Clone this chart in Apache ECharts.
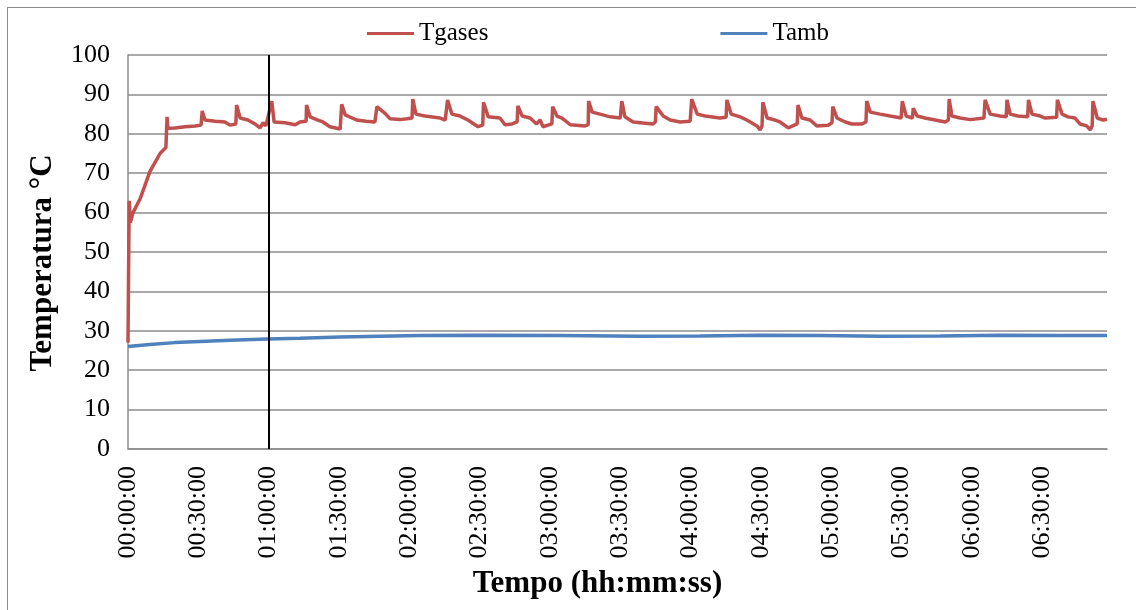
<!DOCTYPE html>
<html>
<head>
<meta charset="utf-8">
<script src="https://cdn.jsdelivr.net/npm/echarts@6/dist/echarts.min.js"></script>
<style>
  html, body { margin: 0; padding: 0; background: #fff; }
  #chart { position: absolute; left: 0; top: 0; width: 1136px; height: 610px; }
  #frame { position: absolute; left: 7px; top: 7px; width: 1160px; height: 640px; border: 1px solid #8c8c8c; pointer-events: none; }
</style>
</head>
<body>
<div id="chart"></div>
<div id="frame"></div>
<script>
// time in seconds from start
const tgTime = [0, 30, 60, 130, 310, 560, 820, 970, 1000, 1020, 1200, 1460, 1720, 1870, 1900, 1970, 2230, 2480, 2610, 2760, 2780, 2870, 3070, 3250, 3380, 3460, 3530, 3580, 3680, 3740, 4020, 4280, 4400, 4560, 4570, 4660, 4860, 4990, 5170, 5430, 5470, 5560, 5850, 6090, 6320, 6370, 6580, 6710, 6960, 7140, 7270, 7290, 7370, 7600, 7990, 8120, 8170, 8180, 8290, 8500, 8700, 8960, 9080, 9100, 9220, 9520, 9650, 9830, 9960, 9980, 10090, 10290, 10460, 10550, 10620, 10850, 10870, 10980, 11110, 11320, 11700, 11780, 11790, 11880, 12080, 12340, 12600, 12640, 12720, 12930, 13240, 13440, 13500, 13520, 13700, 13880, 14130, 14390, 14430, 14570, 14770, 15150, 15310, 15330, 15440, 15670, 15840, 16100, 16180, 16230, 16250, 16360, 16560, 16690, 16900, 17130, 17150, 17250, 17460, 17630, 17920, 18020, 18040, 18150, 18360, 18530, 18790, 18890, 18910, 19000, 19250, 19510, 19790, 19820, 19920, 20080, 20100, 20200, 20400, 20660, 20920, 21000, 21020, 21090, 21300, 21560, 21910, 21940, 22070, 22320, 22480, 22500, 22580, 22780, 23030, 23050, 23140, 23350, 23480, 23770, 23790, 23910, 24060, 24240, 24370, 24540, 24630, 24680, 24700, 24810, 24960, 25060];
const tgVal = [27, 63, 57.5, 60, 63.5, 70.4, 75, 76.5, 84.3, 81.4, 81.5, 81.8, 82, 82.2, 85.8, 83.5, 83.2, 83, 82.2, 82.5, 87.3, 84, 83.5, 82.5, 81.5, 82.8, 82, 81.5, 88.3, 83, 82.8, 82.3, 83, 83.2, 87.3, 84.3, 83.5, 83, 81.8, 81.2, 87.5, 84.8, 83.5, 83.2, 83, 86.9, 85.2, 83.8, 83.6, 83.8, 84, 88.8, 85, 84.5, 84, 83.5, 83.8, 88.6, 85, 84.5, 83.5, 81.8, 82.2, 88, 84.3, 84, 82.3, 82.5, 83, 87.1, 84.5, 84, 82.5, 83.5, 81.8, 82.5, 86.9, 84.5, 84, 82.3, 82, 82.3, 88.3, 85.5, 85, 84.3, 84, 88.3, 84.3, 83, 82.7, 82.5, 83, 86.9, 84.5, 83.5, 83, 83.2, 88.8, 85, 84.5, 84, 84.2, 88.6, 85, 84.3, 83.5, 82, 81, 82, 88, 84, 83.5, 83, 81.5, 82.5, 87.3, 84, 83.5, 82, 82.2, 82.8, 86.9, 84, 83, 82.5, 82.5, 83, 88.3, 85.5, 85, 84.5, 84, 88.3, 84.5, 84, 86.5, 84.5, 84, 83.5, 83, 83.5, 88.8, 84.5, 84, 83.6, 84, 88.6, 85, 84.5, 84.3, 88.6, 85, 84.5, 84.3, 88.6, 85, 84.5, 84, 84.2, 88.6, 85, 84.3, 84, 82.5, 82, 81, 82, 88.3, 84, 83.5, 83.7];

const taTime = [0, 560, 1200, 1840, 2610, 3560, 4400, 5430, 6450, 7480, 9010, 11060, 13110, 14640, 16180, 17720, 19250, 20790, 22320, 23860, 25060];
const taVal = [26.0, 26.5, 27.0, 27.3, 27.6, 27.9, 28.1, 28.4, 28.6, 28.8, 28.9, 28.8, 28.6, 28.7, 28.9, 28.8, 28.6, 28.7, 28.9, 28.8, 28.8];

const yTicks = [0, 10, 20, 30, 40, 50, 60, 70, 80, 90, 100];
const markTime = 3600;

const pad = n => (n < 10 ? '0' : '') + n;
const fmt = v => {
  if (v % 1800) return '';
  const h = Math.floor(v / 3600), m = Math.floor(v % 3600 / 60), s = v % 60;
  return pad(h) + ':' + pad(m) + ':' + pad(s);
};

const serif = '"Liberation Serif", "DejaVu Serif", serif';
const chart = echarts.init(document.getElementById('chart'));
chart.setOption({
  animation: false,
  textStyle: { fontFamily: serif },
  legend: {
    left: 362, top: 16,
    icon: 'rect', itemWidth: 47, itemHeight: 3, itemGap: 232,
    textStyle: { fontFamily: serif, fontSize: 25, color: '#000' },
    data: ['Tgases', 'Tamb']
  },
  grid: { left: 128, right: 29, top: 55, bottom: 161 },
  xAxis: {
    type: 'value', min: 0, max: taTime[taTime.length - 1], interval: 1800,
    name: 'Tempo (hh:mm:ss)', nameLocation: 'middle', nameGap: 119,
    nameTextStyle: { fontFamily: serif, fontSize: 31, fontWeight: 'bold', color: '#000', padding: [0, 40, 0, 0] },
    axisLine: { lineStyle: { color: '#8c8c8c', width: 1.5 } },
    axisTick: { show: false },
    splitLine: { show: false },
    axisLabel: { rotate: 90, margin: 17, fontSize: 26, color: '#000', fontFamily: serif, showMaxLabel: false, formatter: fmt }
  },
  yAxis: {
    type: 'value', min: yTicks[0], max: yTicks[yTicks.length - 1], interval: 10,
    name: 'Temperatura °C', nameLocation: 'middle', nameRotate: 90, nameGap: 70,
    nameTextStyle: { fontFamily: serif, fontSize: 31, fontWeight: 'bold', color: '#000', padding: [0, 22, 0, 0] },
    axisLine: { show: true, lineStyle: { color: '#8c8c8c', width: 1.5 } },
    axisTick: { show: false },
    splitLine: { lineStyle: { color: '#8c8c8c', width: 1.5 } },
    axisLabel: { margin: 18, fontSize: 26, color: '#000', fontFamily: serif }
  },
  series: [
    {
      name: 'Tgases', type: 'line', showSymbol: false,
      color: '#C0504D', lineStyle: { width: 3.5, color: '#C0504D' },
      data: tgTime.map((t, i) => [t, tgVal[i]]),
      markLine: {
        silent: true, symbol: 'none', label: { show: false },
        lineStyle: { color: '#000', width: 2, type: 'solid' },
        data: [{ xAxis: markTime }]
      }
    },
    {
      name: 'Tamb', type: 'line', showSymbol: false,
      color: '#4F81BD', lineStyle: { width: 3.5, color: '#4F81BD' },
      data: taTime.map((t, i) => [t, taVal[i]])
    }
  ]
});
</script>
</body>
</html>
